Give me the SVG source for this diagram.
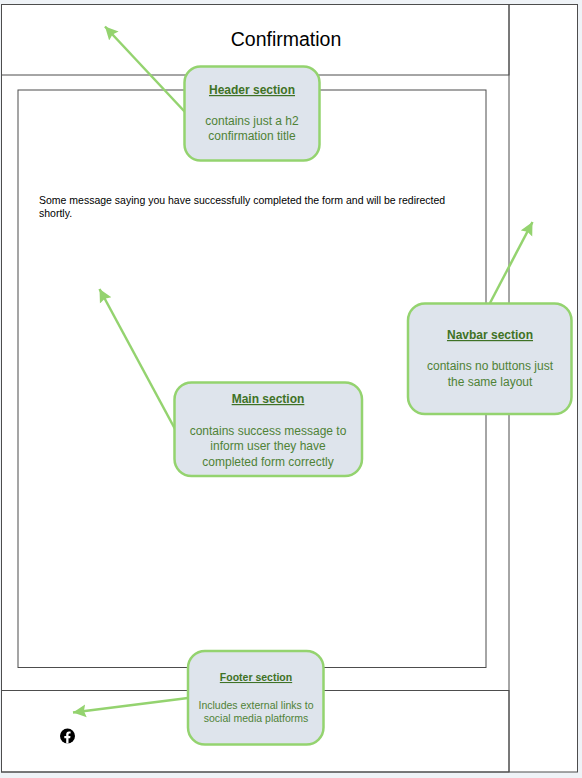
<svg xmlns="http://www.w3.org/2000/svg" width="582" height="778" viewBox="0 0 582 778">
<defs>
<marker id="arrow" markerUnits="userSpaceOnUse" markerWidth="15" markerHeight="15" refX="13" refY="7" orient="auto"><path d="M0 0.500L13 7L0 13.500L2 7Z" fill="#94d36f"/></marker>
</defs>
<style>
text{font-family:"Liberation Sans",Arial,sans-serif;text-anchor:middle}
.frame{fill:none;stroke:#4d4d4d;stroke-width:1}
.callout{fill:#dee4ec;stroke:#94d36f;stroke-width:2.5}
.head{font-size:12px;font-weight:bold;fill:#3f7226;text-decoration:underline}
.body{font-size:12px;fill:#4f8236}
.small .head,.small .body{font-size:10.5px}
.conn{fill:none;stroke:#94d36f;stroke-width:2.5;marker-end:url(#arrow)}
</style>
<rect width="582" height="778" fill="#eff3f7"/>
<g id="page">
<rect x="1.5" y="4.5" width="576" height="767.500" class="frame" style="fill:#fff"/>
<path class="frame" d="M509 4.500V772"/>
</g>
<g id="header-frame">
<rect class="frame" x="1.5" y="4.5" width="507.500" height="70.500"/>
<text x="286" y="46" font-size="19.500" fill="#000">Confirmation</text>
</g>
<g id="main-frame">
<rect class="frame" x="18" y="90" width="468" height="577.500"/>
<text x="39" y="204" font-size="10.500" fill="#000" style="text-anchor:start">Some message saying you have successfully completed the form and will be redirected</text>
<text x="39" y="217" font-size="10.500" fill="#000" style="text-anchor:start">shortly.</text>
</g>
<g id="footer-frame">
<rect class="frame" x="1.5" y="690.500" width="507.500" height="81.500"/>
<g id="facebook-icon">
<circle cx="67.5" cy="736" r="7.5" fill="#000"/>
<path fill="#fff" d="M66.200 743.500V738.300H64.300V736H66.200V734.300C66.200 732.400 67.300 731.400 69 731.400C69.800 731.400 70.600 731.500 70.600 731.500V733.400H69.700C68.800 733.400 68.500 733.900 68.500 734.500V736H70.500L70.200 738.300H68.500V743.500Z"/>
</g>
</g>
<g id="connectors">
<path class="conn" d="M185 112L105 26.500"/>
<path class="conn" d="M490 303L532.500 222"/>
<path class="conn" d="M175 429L99.500 289"/>
<path class="conn" d="M188 698L73 712.500"/>
</g>
<g id="header-note">
<rect class="callout" x="184.500" y="66.500" width="135" height="94" rx="16"/>
<text class="head" x="252" y="94">Header section</text>
<text class="body" x="252" y="125">contains just a h2</text>
<text class="body" x="252" y="140">confirmation title</text>
</g>
<g id="navbar-note">
<rect class="callout" x="408" y="303.500" width="163.500" height="110.500" rx="17"/>
<text class="head" x="490" y="339">Navbar section</text>
<text class="body" x="490" y="370">contains no buttons just</text>
<text class="body" x="490" y="386">the same layout</text>
</g>
<g id="main-note">
<rect class="callout" x="174.500" y="382.500" width="187.500" height="93.500" rx="17"/>
<text class="head" x="268" y="403">Main section</text>
<text class="body" x="268" y="435">contains success message to</text>
<text class="body" x="268" y="450">inform user they have</text>
<text class="body" x="268" y="466">completed form correctly</text>
</g>
<g id="footer-note" class="small">
<rect class="callout" x="188" y="651" width="135.500" height="93.500" rx="17"/>
<text class="head" x="256" y="681">Footer section</text>
<text class="body" x="256" y="709">Includes external links to</text>
<text class="body" x="256" y="722">social media platforms</text>
</g>
</svg>
